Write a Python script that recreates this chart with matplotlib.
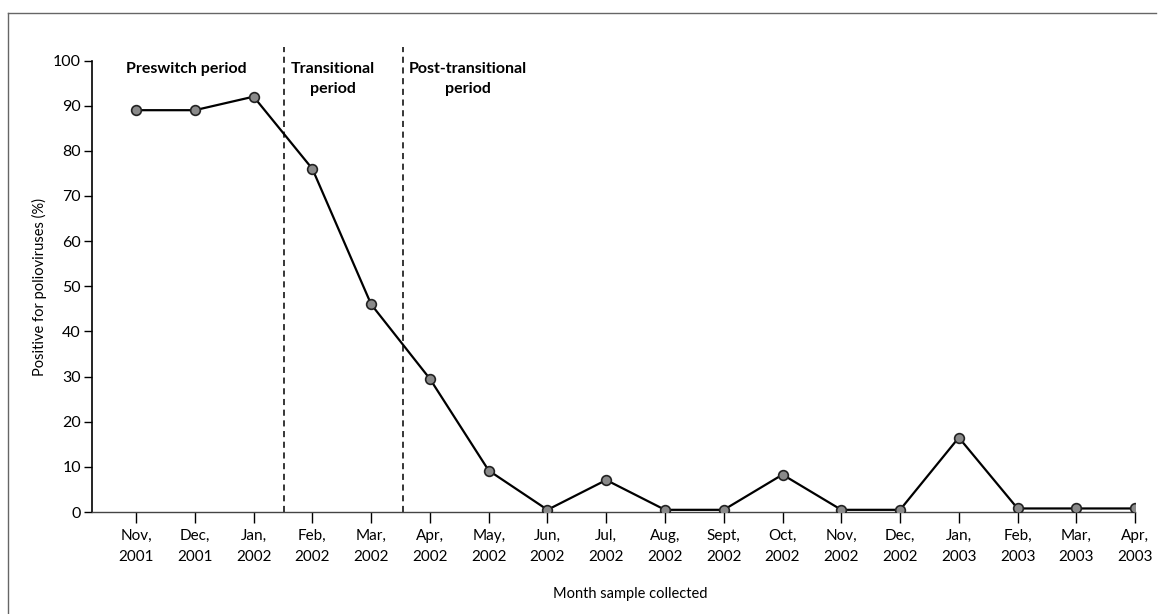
import matplotlib.pyplot as plt
from matplotlib.lines import Line2D

plt.rcParams['font.family'] = ['Lato', 'DejaVu Sans']

months = ['Nov,\n2001', 'Dec,\n2001', 'Jan,\n2002', 'Feb,\n2002', 'Mar,\n2002', 'Apr,\n2002',
          'May,\n2002', 'Jun,\n2002', 'Jul,\n2002', 'Aug,\n2002', 'Sept,\n2002', 'Oct,\n2002',
          'Nov,\n2002', 'Dec,\n2002', 'Jan,\n2003', 'Feb,\n2003', 'Mar,\n2003', 'Apr,\n2003']
positive = [89, 89, 92, 76, 46, 29.5, 9.2, 0.5, 7.1, 0.5, 0.5, 8.3, 0.5, 0.5, 16.5, 0.8, 0.8, 0.8]
period_bounds = [2.52, 4.55]
period_labels = ['Preswitch period', 'Transitional\nperiod', 'Post-transitional\nperiod']
period_centres = [0.85, 3.35, 5.65]

fig = plt.figure(figsize=(11.59, 6.14), dpi=100)
ax = fig.add_axes([0.0794, 0.166, 0.9, 0.7575])

x = list(range(len(months)))
ax.plot(x, positive, color='black', lw=1.6, marker='o', markersize=7,
        markerfacecolor='#8a8a8a', markeredgecolor='#222222', markeredgewidth=1.2, zorder=3)

for b in period_bounds:
    ax.plot([b, b], [0, 103], color='black', lw=1.1, ls=(0, (4, 3)), zorder=2)

for xc, lab in zip(period_centres, period_labels):
    ax.text(xc, 99.7, lab, ha='center', va='top', fontsize=11.5, fontweight='bold',
            linespacing=1.6)

ax.set_xlim(-0.75, 17)
ax.set_ylim(0, 103)
ax.set_yticks(range(0, 101, 10))
ax.set_xticks(x)
ax.set_xticklabels(months, fontsize=11, linespacing=1.7)
ax.tick_params(axis='y', labelsize=11.5, length=6, width=1, pad=2)
ax.tick_params(axis='x', length=8, width=1, pad=4)

for side in ['top', 'right']:
    ax.spines[side].set_visible(False)
ax.spines['left'].set_bounds(0, 100)
ax.spines['bottom'].set_bounds(-0.75, 17)
ax.spines['left'].set_linewidth(1.2)
ax.spines['bottom'].set_linewidth(1.0)
ax.spines['bottom'].set_color('#444444')

ax.set_ylabel('Positive for polioviruses (%)', fontsize=10.5)
ax.yaxis.set_label_coords(-0.043, 0.485)
ax.set_xlabel('Month sample collected', fontsize=10.5)
ax.xaxis.set_label_coords(0.516, -0.162)

# panel frame on the left and top edges
fig.add_artist(Line2D([0.007, 0.997], [0.979, 0.979], color='#666666', lw=1.0,
                      transform=fig.transFigure))
fig.add_artist(Line2D([0.007, 0.007], [0.0, 0.979], color='#666666', lw=1.0,
                      transform=fig.transFigure))

fig.savefig('out.png', dpi=100)
